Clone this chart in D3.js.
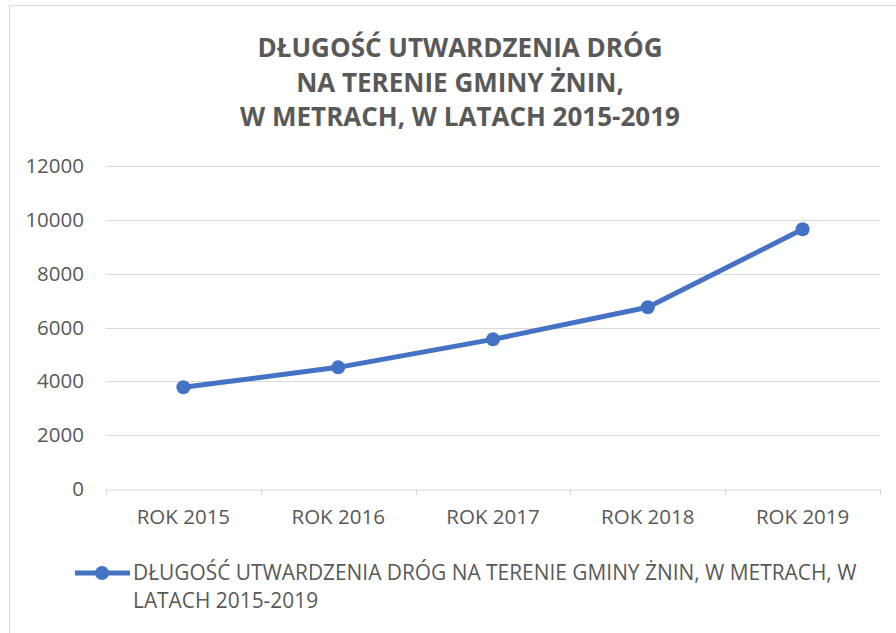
<!DOCTYPE html>
<html>
<head>
<meta charset="utf-8">
<script src="https://cdn.jsdelivr.net/npm/d3@7"></script>
<style>
  body { margin: 0; background: #fff; }
  text { font-family: "Open Sans", "Noto Sans", sans-serif; fill: #595959; }
</style>
</head>
<body>
<svg id="chart" width="896" height="633"></svg>
<script>
// data
const years = ["ROK 2015", "ROK 2016", "ROK 2017", "ROK 2018", "ROK 2019"];
const lengths = [3780, 4520, 5560, 6750, 9650];
const yTicks = [0, 2000, 4000, 6000, 8000, 10000, 12000];
const titleLines = ["DŁUGOŚĆ UTWARDZENIA DRÓG", "NA TERENIE GMINY ŻNIN,", "W METRACH, W LATACH 2015-2019"];
const legendLines = ["DŁUGOŚĆ UTWARDZENIA DRÓG NA TERENIE GMINY ŻNIN, W METRACH, W", "LATACH 2015-2019"];

const margin = {top: 166, right: 16, bottom: 144, left: 106};
const width = 896 - margin.left - margin.right;
const height = 633 - margin.top - margin.bottom;
const blue = "#4472c4";

const svg = d3.select("#chart");

// outer frame (only top and left visible)
svg.append("rect")
  .attr("x", 9.5).attr("y", 5.5)
  .attr("width", 900).attr("height", 700)
  .attr("fill", "none")
  .attr("stroke", "#d9d9d9");

// title
svg.append("g").selectAll("text")
  .data(titleLines)
  .enter().append("text")
  .attr("x", 460)
  .attr("y", (d, i) => 57 + i * 34.5)
  .attr("text-anchor", "middle")
  .attr("font-size", "26px")
  .attr("font-weight", "bold")
  .text(d => d);

const g = svg.append("g")
  .attr("transform", "translate(" + margin.left + "," + margin.top + ")");

const x = d3.scaleBand().domain(years).range([0, width]);
const y = d3.scaleLinear().domain([0, 12000]).range([height, 0]);

// gridlines
g.append("g").selectAll("line")
  .data(yTicks.filter(d => d > 0))
  .enter().append("line")
  .attr("x1", 0).attr("x2", width)
  .attr("y1", d => Math.round(y(d)) + 0.5)
  .attr("y2", d => Math.round(y(d)) + 0.5)
  .attr("stroke", "#d9d9d9")
  .attr("stroke-width", 1);

// y axis labels
const yAxis = g.append("g")
  .call(d3.axisLeft(y).tickValues(yTicks).tickSize(0).tickPadding(22).tickFormat(d3.format("d")));
yAxis.select(".domain").remove();
yAxis.selectAll("text").attr("font-size", "20.5px").attr("fill", "#595959")
  .style("font-family", "\"Open Sans\", sans-serif");

// x axis
const xAxis = g.append("g")
  .attr("transform", "translate(0," + (Math.round(height) + 0.5) + ")")
  .call(d3.axisBottom(x).tickSize(0).tickPadding(20));
xAxis.select(".domain").attr("stroke", "#d9d9d9");
xAxis.selectAll("text").attr("font-size", "20.5px").attr("fill", "#595959")
  .style("font-family", "\"Open Sans\", sans-serif");
// tick marks at category boundaries
g.append("g").selectAll("line")
  .data(d3.range(years.length + 1))
  .enter().append("line")
  .attr("x1", i => Math.round(i * x.step()) + 0.5)
  .attr("x2", i => Math.round(i * x.step()) + 0.5)
  .attr("y1", Math.round(height))
  .attr("y2", Math.round(height) + 6)
  .attr("stroke", "#d9d9d9");

// line
const cx = (d, i) => x(years[i]) + x.bandwidth() / 2;
g.append("path")
  .datum(lengths)
  .attr("fill", "none")
  .attr("stroke", blue)
  .attr("stroke-width", 5)
  .attr("stroke-linejoin", "round")
  .attr("d", d3.line().x(cx).y(d => y(d)));

g.selectAll(".dot")
  .data(lengths)
  .enter().append("circle")
  .attr("class", "dot")
  .attr("cx", cx)
  .attr("cy", d => y(d))
  .attr("r", 7)
  .attr("fill", blue);

// legend
const legend = svg.append("g");
legend.append("line")
  .attr("x1", 75).attr("x2", 130)
  .attr("y1", 573).attr("y2", 573)
  .attr("stroke", blue).attr("stroke-width", 5);
legend.append("circle")
  .attr("cx", 102).attr("cy", 573).attr("r", 7)
  .attr("fill", blue);
legend.selectAll("text.leg")
  .data(legendLines)
  .enter().append("text")
  .attr("class", "leg")
  .attr("x", 133)
  .attr("y", (d, i) => 580 + i * 28)
  .attr("font-size", "20.9px")
  .text(d => d);
</script>
</body>
</html>
